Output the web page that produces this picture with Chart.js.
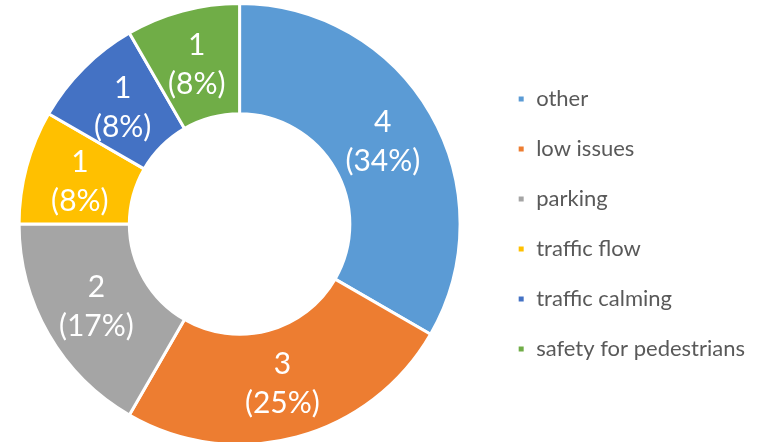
<!DOCTYPE html>
<html>
<head>
<meta charset="utf-8">
<script src="https://cdn.jsdelivr.net/npm/chart.js@4.4.1/dist/chart.umd.min.js"></script>
<style>
  html, body { margin: 0; padding: 0; background: #fff; }
  #frame { width: 774px; height: 442px; position: relative; overflow: hidden; }
  /* canvas a bit wider and pulled left so the ring sits where the original has it */
  #wrap { width: 784px; height: 442px; position: absolute; left: -10px; top: 0; }
</style>
</head>
<body>
<div id="frame"><div id="wrap"><canvas id="donut-chart"></canvas></div></div>
<script>
// categories and values
const categories = ["other", "low issues", "parking", "traffic flow", "traffic calming", "safety for pedestrians"];
const counts = [4, 3, 2, 1, 1, 1];
// percentages as printed on the slices
const percentLabels = ["34%", "25%", "17%", "8%", "8%", "8%"];
const sliceColors = ["#5B9BD5", "#ED7D31", "#A5A5A5", "#FFC000", "#4472C4", "#70AD47"];

// draws "value (pct)" in the middle of each slice
const sliceLabels = {
    id: 'sliceLabels',
    afterDatasetsDraw(chart) {
        const ctx = chart.ctx;
        const meta = chart.getDatasetMeta(0);
        ctx.save();
        ctx.fillStyle = '#ffffff';
        ctx.font = '30px Lato';
        ctx.textAlign = 'center';
        ctx.textBaseline = 'middle';
        meta.data.forEach((arc, i) => {
            const pos = arc.tooltipPosition(true);
            ctx.fillText(String(counts[i]), pos.x, pos.y - 19);
            ctx.fillText('(' + percentLabels[i] + ')', pos.x, pos.y + 20);
        });
        ctx.restore();
    }
};

function showChart() {
    let chartdata = {
        labels: categories,
        datasets: [{
            data: counts,
            backgroundColor: sliceColors,
            borderColor: '#ffffff',
            borderWidth: 3
        }]
    };

    let target = document.querySelector("#donut-chart");

    new Chart(target, {
        type: 'doughnut',
        data: chartdata,
        plugins: [sliceLabels],
        options: {
            responsive: true,
            maintainAspectRatio: false,
            animation: false,
            radius: 220.5,
            cutout: '50%',
            events: [],
            layout: {
                padding: { top: 6, bottom: 0, left: 0, right: 19 }
            },
            plugins: {
                tooltip: { enabled: false },
                legend: {
                    position: 'right',
                    labels: {
                        boxWidth: 8,
                        boxHeight: 8,
                        padding: 28,
                        color: '#595959',
                        font: { family: 'Lato', size: 22 }
                    }
                }
            }
        }
    });
}

showChart();
</script>
</body>
</html>
